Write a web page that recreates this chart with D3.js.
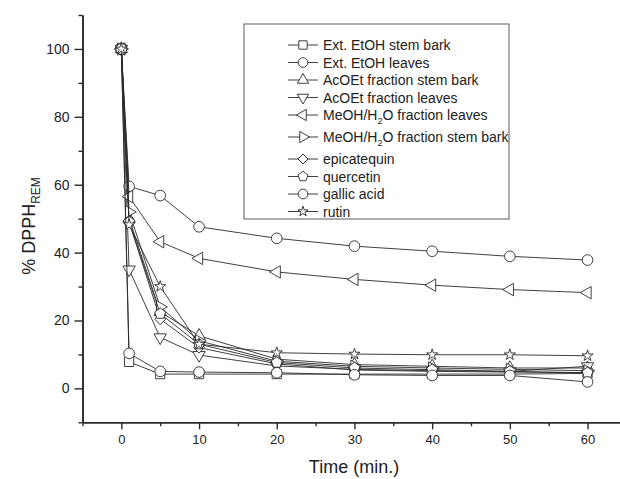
<!DOCTYPE html>
<html>
<head>
<meta charset="utf-8">
<script src="https://cdn.jsdelivr.net/npm/d3@7"></script>
<style>
  body { margin: 0; background: #fff; }
  svg { font-family: "Liberation Sans", Arial, sans-serif; }
</style>
</head>
<body>
<div id="chart"></div>
<script>
// sampling times (min.)
const times = [0, 1, 5, 10, 20, 30, 40, 50, 60];

// % DPPH remaining
const extEtohStemBark   = [100, 7.8, 4.2, 4.2, 4.2, 4.2, 4.2, 4.2, 4.4];
const extEtohLeaves     = [100, 59.5, 56.8, 47.6, 44.2, 41.9, 40.4, 38.9, 37.8];
const acoetStemBark     = [100, 50, 22.5, 15.5, 8.6, 7.0, 6.5, 6.0, 6.0];
const acoetLeaves       = [100, 35, 15, 9.8, 6.6, 5.6, 5.2, 5.0, 6.5];
const meohLeaves        = [100, 56.5, 43.2, 38.3, 34.3, 32.1, 30.4, 29.1, 28.2];
const meohStemBark      = [100, 52, 24, 14, 8.0, 6.5, 6.0, 5.6, 5.2];
const epicatequin       = [100, 49, 20.4, 12, 7.2, 5.4, 5.0, 4.8, 4.6];
const quercetin         = [100, 49, 22, 13, 7.6, 6.0, 5.5, 5.0, 4.6];
const gallicAcid        = [100, 10.3, 5.0, 4.8, 4.6, 4.0, 3.8, 3.8, 1.9];
const rutin             = [100, 48.2, 30, 13, 10.5, 10.1, 9.9, 9.9, 9.6];

const seriesNames = [
  "Ext. EtOH stem bark", "Ext. EtOH leaves", "AcOEt fraction stem bark",
  "AcOEt fraction leaves", "MeOH/H2O fraction leaves", "MeOH/H2O fraction stem bark",
  "epicatequin", "quercetin", "gallic acid", "rutin"
];
const seriesValues = [
  extEtohStemBark, extEtohLeaves, acoetStemBark, acoetLeaves, meohLeaves,
  meohStemBark, epicatequin, quercetin, gallicAcid, rutin
];
const seriesShapes = [
  "square", "circle", "up", "down", "left", "right", "diamond", "pentagon", "circle", "star"
];

const xMajorTicks = [0, 10, 20, 30, 40, 50, 60];
const xMinorTicks = [-5, 5, 15, 25, 35, 45, 55, 65];
const yMajorTicks = [0, 20, 40, 60, 80, 100];
const yMinorTicks = [-10, 10, 30, 50, 70, 90, 110];

const width = 620, height = 479;
const ink = "#2b2b2b";

const svg = d3.select("#chart").append("svg")
    .attr("width", width)
    .attr("height", height);

const x = d3.scaleLinear().domain([-5, 65]).range([82.5, 626.4]);
const y = d3.scaleLinear().domain([-10, 110]).range([422.3, 15]);

// marker path for each shape, centred on 0,0
function markerPath(shape, s) {
  switch (shape) {
    case "square": return d3.symbol().type(d3.symbolSquare).size(s * s * 0.7)();
    case "circle": return d3.symbol().type(d3.symbolCircle).size(s * s * 0.74)();
    case "diamond": return d3.symbol().type(d3.symbolSquare).size(s * s * 0.5)();
    case "star": return d3.symbol().type(d3.symbolStar).size(s * s * 0.32)();
    case "pentagon": {
      const r = s * 0.52;
      const pts = d3.range(5).map(i => {
        const a = -Math.PI / 2 + i * 2 * Math.PI / 5;
        return [r * Math.cos(a), r * Math.sin(a)];
      });
      return d3.line()(pts) + "Z";
    }
    default: return d3.symbol().type(d3.symbolTriangle).size(s * s * 0.55)();
  }
}
function markerRotate(shape) {
  return { up: 0, down: 180, left: -90, right: 90, diamond: 45 }[shape] || 0;
}

// axes
const xMinor = d3.axisBottom(x).tickValues(xMinorTicks).tickSize(4).tickFormat("").tickSizeOuter(0);
const xMajor = d3.axisBottom(x).tickValues(xMajorTicks).tickSize(7).tickPadding(5).tickSizeOuter(0);
const yMinor = d3.axisLeft(y).tickValues(yMinorTicks).tickSize(4).tickFormat("").tickSizeOuter(0);
const yMajor = d3.axisLeft(y).tickValues(yMajorTicks).tickSize(8).tickPadding(5).tickSizeOuter(0);

function styleAxis(g, fs) {
  g.select(".domain").attr("stroke", ink).attr("stroke-width", 1.6);
  g.selectAll(".tick line").attr("stroke", ink).attr("stroke-width", 1.4);
  g.selectAll(".tick text").attr("fill", "#222").style("font-size", fs + "px")
    .style("font-family", "'Liberation Sans', Arial, sans-serif");
}

svg.append("g").attr("transform", `translate(0,${y(-10)})`).call(xMinor).call(g => styleAxis(g, 13));
svg.append("g").attr("transform", `translate(0,${y(-10)})`).call(xMajor).call(g => styleAxis(g, 13));
svg.append("g").attr("transform", `translate(${x(-5)},0)`).call(yMinor).call(g => styleAxis(g, 14));
svg.append("g").attr("transform", `translate(${x(-5)},0)`).call(yMajor).call(g => styleAxis(g, 14));

// axis titles
svg.append("text")
    .attr("x", 354).attr("y", 473)
    .attr("text-anchor", "middle")
    .style("font-size", "18px")
    .attr("fill", "#222")
    .text("Time (min.)");

const yTitle = svg.append("text")
    .attr("transform", "translate(35,226)rotate(-90)")
    .attr("text-anchor", "middle")
    .style("font-size", "18px")
    .attr("fill", "#222");
yTitle.append("tspan").text("% DPPH");
yTitle.append("tspan").attr("dy", 5).style("font-size", "12px").text("REM");

// series
const line = d3.line().x((d, i) => x(times[i])).y(d => y(d));

const series = svg.append("g").selectAll("g")
  .data(seriesValues.map((v, i) => ({ values: v, shape: seriesShapes[i] })))
  .enter().append("g");

series.append("path")
    .attr("d", d => line(d.values))
    .attr("fill", "none")
    .attr("stroke", ink)
    .attr("stroke-width", 0.9);

series.each(function(d) {
  d3.select(this).selectAll("path.mk")
    .data(d.values)
    .enter().append("path")
      .attr("class", "mk")
      .attr("d", markerPath(d.shape, 11))
      .attr("transform", (v, i) => `translate(${x(times[i])},${y(v)})rotate(${markerRotate(d.shape)})`)
      .attr("fill", "#fff")
      .attr("stroke", ink)
      .attr("stroke-width", 0.9);
});

// legend
const legend = svg.append("g");
legend.append("rect")
    .attr("x", 244).attr("y", 24)
    .attr("width", 265).attr("height", 195)
    .attr("fill", "#fff")
    .attr("stroke", "#777")
    .attr("stroke-width", 1.2);

let rowY = 45;
seriesNames.forEach((name, i) => {
  const row = legend.append("g").attr("transform", `translate(0,${rowY})`);
  row.append("line").attr("x1", 288).attr("x2", 318).attr("y1", 0).attr("y2", 0)
    .attr("stroke", ink).attr("stroke-width", 0.9);
  row.append("path")
    .attr("d", markerPath(seriesShapes[i], 10))
    .attr("transform", `translate(303,0)rotate(${markerRotate(seriesShapes[i])})`)
    .attr("fill", "#fff").attr("stroke", ink).attr("stroke-width", 0.9);
  const t = row.append("text").attr("x", 323).attr("y", 5)
    .style("font-size", "14px").attr("fill", "#222");
  if (name.includes("H2O")) {
    const parts = name.split("H2O");
    t.append("tspan").text(parts[0] + "H");
    t.append("tspan").attr("dy", 4).style("font-size", "9px").text("2");
    t.append("tspan").attr("dy", -4).text("O" + parts[1]);
    rowY += 22;
  } else {
    t.text(name);
    rowY += 17.5;
  }
});
</script>
</body>
</html>
